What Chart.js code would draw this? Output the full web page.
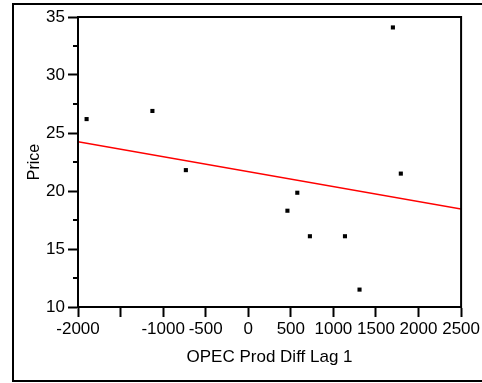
<!DOCTYPE html>
<html>
<head>
<meta charset="utf-8">
<script src="https://cdn.jsdelivr.net/npm/chart.js@4"></script>
<style>
    html, body { margin: 0; padding: 0; background: #fff; overflow: hidden; }
    #wrap { position: absolute; left: 0; top: 0; width: 482px; height: 383px; }
</style>
</head>
<body>
<div id="wrap"><canvas id="chart" width="482" height="383"></canvas></div>
<script>
// Observed points
const prodDiff = [-1899, -1126, -733, 460, 576, 724, 1136, 1307, 1699, 1792];
const price = [26.2, 26.9, 21.8, 18.3, 19.85, 16.1, 16.1, 11.5, 34.1, 21.5];

// Fitted line ends
const fitX = [-2000, 2500];
const fitY = [24.25, 18.45];

// Axis ticks
const xTicks = [-2000, -1500, -1000, -500, 0, 500, 1000, 1500, 2000, 2500];
const xLabels = ['-2000', '', '-1000', '-500', '0', '500', '1000', '1500', '2000', '2500'];
const yMinorTicks = [12.5, 17.5, 22.5, 27.5, 32.5];

const font = "'Liberation Sans', Arial, Helvetica, sans-serif";

// Outer frame (open on the right), plot box and the short minor y ticks
const boxPlugin = {
    id: 'box',
    beforeDraw(chart) {
        const { ctx, width } = chart;
        ctx.save();
        ctx.strokeStyle = '#000';
        ctx.lineWidth = 2;
        ctx.beginPath();
        ctx.moveTo(width + 5, 4);
        ctx.lineTo(13, 4);
        ctx.lineTo(13, 381);
        ctx.lineTo(width + 5, 381);
        ctx.stroke();
        ctx.restore();
    },
    afterDraw(chart) {
        const { ctx, chartArea } = chart;
        const y = chart.scales.y;
        ctx.save();
        ctx.strokeStyle = '#000';
        ctx.lineWidth = 2;
        ctx.strokeRect(chartArea.left, chartArea.top, chartArea.right - chartArea.left, chartArea.bottom - chartArea.top);
        ctx.beginPath();
        yMinorTicks.forEach(v => {
            const py = Math.round(y.getPixelForValue(v));
            ctx.moveTo(chartArea.left - 5, py);
            ctx.lineTo(chartArea.left, py);
        });
        ctx.stroke();
        ctx.restore();
    }
};

new Chart(document.getElementById('chart'), {
    type: 'scatter',
    data: {
        datasets: [
            {
                label: 'Fit',
                type: 'line',
                data: fitX.map((x, i) => ({ x, y: fitY[i] })),
                borderColor: '#ff0000',
                borderWidth: 1.5,
                pointRadius: 0,
                fill: false
            },
            {
                label: 'Price',
                data: prodDiff.map((x, i) => ({ x, y: price[i] })),
                pointStyle: 'rect',
                pointRadius: 2.9,
                backgroundColor: '#000',
                borderColor: '#000',
                borderWidth: 0
            }
        ]
    },
    options: {
        responsive: false,
        animation: false,
        layout: { padding: { left: 0, top: 17, right: 16, bottom: 0 } },
        plugins: {
            legend: { display: false },
            tooltip: { enabled: false }
        },
        scales: {
            x: {
                type: 'linear',
                min: -2000,
                max: 2500,
                afterFit(scale) { scale.height = 76; },
                afterBuildTicks(scale) { scale.ticks = xTicks.map(v => ({ value: v })); },
                border: { display: true, color: '#000', width: 2 },
                grid: { drawOnChartArea: false, drawTicks: true, tickLength: 10, tickColor: '#000', tickWidth: 2 },
                ticks: {
                    autoSkip: false,
                    maxRotation: 0,
                    color: '#000',
                    padding: 2,
                    font: { family: font, size: 17 },
                    callback: (v) => xLabels[xTicks.indexOf(v)]
                },
                title: {
                    display: true,
                    text: 'OPEC Prod Diff Lag 1',
                    color: '#000',
                    font: { family: font, size: 17 },
                    padding: { top: 0, bottom: 15 }
                }
            },
            y: {
                min: 10,
                max: 35,
                afterFit(scale) { scale.width = 78; },
                border: { display: true, color: '#000', width: 2 },
                grid: { drawOnChartArea: false, drawTicks: true, tickLength: 10, tickColor: '#000', tickWidth: 2 },
                ticks: {
                    stepSize: 5,
                    color: '#000',
                    padding: 3,
                    font: { family: font, size: 17 }
                },
                title: {
                    display: true,
                    text: 'Price',
                    color: '#000',
                    font: { family: font, size: 16 },
                    padding: { top: 25, bottom: 0 }
                }
            }
        }
    },
    plugins: [boxPlugin]
});
</script>
</body>
</html>
